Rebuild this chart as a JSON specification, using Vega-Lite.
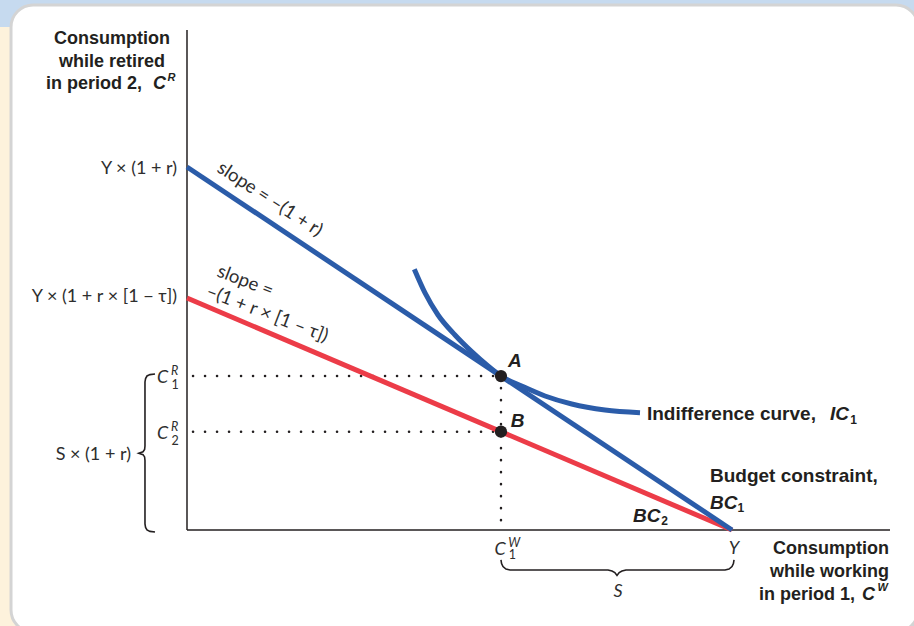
{
  "$schema": "https://vega.github.io/schema/vega-lite/v6.json",
  "width": 914,
  "height": 626,
  "padding": 0,
  "autosize": {"type": "none"},
  "background": "#c6daef",
  "config": {"view": {"stroke": null}},
  "datasets": {
    "yellow": [{"x": -34.32, "x2": -30.64, "y": 92.29, "y2": -17.62}],
    "panel": [{"x": -32.29, "x2": 134.13, "y": 96.33, "y2": -18.72}],
    "axes": [{"x": 0, "x2": 0, "y": 0, "y2": 91.74}, {"x": 0, "x2": 128.99, "y": 0, "y2": 0}],
    "dots": [{"x": 1.1, "x2": 57.61, "y": 28.24, "y2": 28.24}, {"x": 1.1, "x2": 57.61, "y": 18.05, "y2": 18.05}, {"x": 57.61, "x2": 57.61, "y": 28.24, "y2": 0}],
    "bc1": [{"x": 0, "y": 66.61}, {"x": 100, "y": 0}],
    "bc2": [{"x": 0, "y": 42.57}, {"x": 100, "y": 0}],
    "ic": [
      {"x": 41.71, "y": 47.83}, {"x": 43.67, "y": 43.49}, {"x": 46.06, "y": 39.45}, {"x": 49.17, "y": 35.78},
      {"x": 52.24, "y": 32.72}, {"x": 55.23, "y": 30.09}, {"x": 57.61, "y": 28.24}, {"x": 61.41, "y": 26.42},
      {"x": 65.69, "y": 24.59}, {"x": 70.59, "y": 23.12}, {"x": 76.7, "y": 22.02}, {"x": 83.12, "y": 21.52}
    ],
    "pts": [{"x": 57.61, "y": 28.24}, {"x": 57.61, "y": 18.05}],
    "braceL": [
      {"i": 1, "x": -5.87, "y": 28.62}, {"i": 2, "x": -6.79, "y": 28.51}, {"i": 3, "x": -7.34, "y": 28.26},
      {"i": 4, "x": -7.6, "y": 27.8}, {"i": 5, "x": -7.71, "y": 27.16}, {"i": 6, "x": -7.71, "y": 15.41},
      {"i": 7, "x": -7.78, "y": 14.77}, {"i": 8, "x": -8.07, "y": 14.35}, {"i": 9, "x": -8.84, "y": 14.09},
      {"i": 10, "x": -8.07, "y": 13.83}, {"i": 11, "x": -7.78, "y": 13.41}, {"i": 12, "x": -7.71, "y": 12.75},
      {"i": 13, "x": -7.71, "y": 1.1}, {"i": 14, "x": -7.6, "y": 0.46}, {"i": 15, "x": -7.34, "y": 0},
      {"i": 16, "x": -6.79, "y": -0.26}, {"i": 17, "x": -5.87, "y": -0.37}
    ],
    "braceB": [
      {"i": 1, "x": 57.61, "y": -5.5}, {"i": 2, "x": 57.72, "y": -6.15}, {"i": 3, "x": 57.98, "y": -6.7},
      {"i": 4, "x": 58.53, "y": -7.16}, {"i": 5, "x": 59.27, "y": -7.34}, {"i": 6, "x": 77.25, "y": -7.34},
      {"i": 7, "x": 77.98, "y": -7.52}, {"i": 8, "x": 78.5, "y": -7.82}, {"i": 9, "x": 78.9, "y": -8.35},
      {"i": 10, "x": 79.3, "y": -7.82}, {"i": 11, "x": 79.82, "y": -7.52}, {"i": 12, "x": 80.55, "y": -7.34},
      {"i": 13, "x": 98.72, "y": -7.34}, {"i": 14, "x": 99.45, "y": -7.16}, {"i": 15, "x": 100.0, "y": -6.7},
      {"i": 16, "x": 100.26, "y": -6.15}, {"i": 17, "x": 100.37, "y": -5.5}
    ],
    "t_boldCenter": [{"t": "Consumption", "x": -13.76, "y": 89.17}, {"t": "while retired", "x": -13.76, "y": 84.95}],
    "t_boldRight": [
      {"t": "in period 2,", "x": -8.26, "y": 80.92},
      {"t": "Consumption", "x": 128.81, "y": -4.4},
      {"t": "while working", "x": 128.81, "y": -8.62},
      {"t": "in period 1,", "x": 122.57, "y": -12.84}
    ],
    "t_boldItalicTitle": [{"t": "C", "x": -6.24, "y": 80.92}, {"t": "C", "x": 123.85, "y": -12.84}],
    "t_boldItalicSup": [{"t": "R", "x": -3.58, "y": 82.39}, {"t": "W", "x": 126.7, "y": -11.19}],
    "t_boldAnn": [{"t": "Indifference curve,", "x": 84.4, "y": 20.18}, {"t": "Budget constraint,", "x": 95.96, "y": 8.81}],
    "t_boldItalicAnn": [{"t": "IC", "x": 117.98, "y": 20.18}, {"t": "BC", "x": 95.96, "y": 3.85}, {"t": "BC", "x": 81.83, "y": 1.47}],
    "t_boldSub": [{"t": "1", "x": 121.7, "y": 19.45}, {"t": "1", "x": 101.0, "y": 3.3}, {"t": "2", "x": 87.0, "y": 0.92}],
    "t_points": [{"t": "A", "x": 60.18, "y": 29.91}, {"t": "B", "x": 60.64, "y": 18.9}],
    "t_lightRight": [
      {"t": "Y × (1 + r)", "x": -1.83, "y": 65.32},
      {"t": "Y × (1 + r × [1 − τ])", "x": -1.83, "y": 41.83},
      {"t": "S × (1 + r)", "x": -10.28, "y": 12.84}
    ],
    "t_lightItalicC": [{"t": "C", "x": -5.5, "y": 26.97}, {"t": "C", "x": -5.5, "y": 16.7}, {"t": "C", "x": 56.4, "y": -4.59}],
    "t_lightSup": [{"t": "R", "x": -2.95, "y": 28.44}, {"t": "R", "x": -2.95, "y": 18.17}, {"t": "W", "x": 58.95, "y": -3.12}],
    "t_lightSub": [{"t": "1", "x": -2.85, "y": 25.9}, {"t": "2", "x": -2.85, "y": 15.6}, {"t": "1", "x": 59.05, "y": -5.3}],
    "t_lightItalicCenter": [{"t": "Y", "x": 100.37, "y": -4.4}, {"t": "S", "x": 79.08, "y": -12.29}],
    "t_slope1": [{"t": "slope = –(1 + r)", "x": 5.32, "y": 65.87}],
    "t_slope2": [{"t": "slope =", "x": 5.32, "y": 46.61}, {"t": "–(1 + r × [1 – τ])", "x": 3.3, "y": 42.94}]
  },
  "encoding": {
    "x": {"field": "x", "type": "quantitative", "scale": {"domain": [-34.3119, 133.3945], "nice": false, "zero": false}, "axis": null},
    "y": {"field": "y", "type": "quantitative", "scale": {"domain": [-17.6147, 97.2477], "nice": false, "zero": false}, "axis": null}
  },
  "layer": [
    {"data": {"name": "yellow"}, "mark": {"type": "rect", "color": "#fdf2dc"}, "encoding": {"x2": {"field": "x2"}, "y2": {"field": "y2"}}},
    {"data": {"name": "panel"}, "mark": {"type": "rect", "fill": "#ffffff", "stroke": "#d4d4d4", "strokeWidth": 3, "cornerRadius": 22}, "encoding": {"x2": {"field": "x2"}, "y2": {"field": "y2"}}},
    {"data": {"name": "axes"}, "mark": {"type": "rule", "color": "#231f20", "strokeWidth": 1.5}, "encoding": {"x2": {"field": "x2"}, "y2": {"field": "y2"}}},
    {"data": {"name": "dots"}, "mark": {"type": "rule", "color": "#231f20", "strokeWidth": 2.5, "strokeCap": "round", "strokeDash": [0.1, 11.9]}, "encoding": {"x2": {"field": "x2"}, "y2": {"field": "y2"}}},
    {"data": {"name": "bc2"}, "mark": {"type": "line", "color": "#ec3c48", "strokeWidth": 5, "strokeCap": "butt"}, "encoding": {}},
    {"data": {"name": "bc1"}, "mark": {"type": "line", "color": "#2b5ca9", "strokeWidth": 5, "strokeCap": "butt"}, "encoding": {}},
    {"data": {"name": "ic"}, "mark": {"type": "line", "color": "#2b5ca9", "strokeWidth": 5, "strokeCap": "butt", "interpolate": "monotone"}, "encoding": {}},
    {"data": {"name": "pts"}, "mark": {"type": "point", "filled": true, "opacity": 1, "color": "#231f20", "size": 150}, "encoding": {}},
    {"data": {"name": "braceL"}, "mark": {"type": "line", "color": "#231f20", "strokeWidth": 1.6}, "encoding": {"order": {"field": "i"}}},
    {"data": {"name": "braceB"}, "mark": {"type": "line", "color": "#231f20", "strokeWidth": 1.6}, "encoding": {"order": {"field": "i"}}},
    {"data": {"name": "t_boldCenter"}, "mark": {"type": "text", "font": "Liberation Sans", "fontWeight": "bold", "fontSize": 18, "align": "center", "baseline": "alphabetic", "color": "#231f20"}, "encoding": {"text": {"field": "t"}}},
    {"data": {"name": "t_boldRight"}, "mark": {"type": "text", "font": "Liberation Sans", "fontWeight": "bold", "fontSize": 18, "align": "right", "baseline": "alphabetic", "color": "#231f20"}, "encoding": {"text": {"field": "t"}}},
    {"data": {"name": "t_boldItalicTitle"}, "mark": {"type": "text", "font": "Liberation Sans", "fontWeight": "bold", "fontStyle": "italic", "fontSize": 18, "align": "left", "baseline": "alphabetic", "color": "#231f20"}, "encoding": {"text": {"field": "t"}}},
    {"data": {"name": "t_boldItalicSup"}, "mark": {"type": "text", "font": "Liberation Sans", "fontWeight": "bold", "fontStyle": "italic", "fontSize": 11, "align": "left", "baseline": "alphabetic", "color": "#231f20"}, "encoding": {"text": {"field": "t"}}},
    {"data": {"name": "t_boldAnn"}, "mark": {"type": "text", "font": "Liberation Sans", "fontWeight": "bold", "fontSize": 19, "align": "left", "baseline": "alphabetic", "color": "#231f20"}, "encoding": {"text": {"field": "t"}}},
    {"data": {"name": "t_boldItalicAnn"}, "mark": {"type": "text", "font": "Liberation Sans", "fontWeight": "bold", "fontStyle": "italic", "fontSize": 19, "align": "left", "baseline": "alphabetic", "color": "#231f20"}, "encoding": {"text": {"field": "t"}}},
    {"data": {"name": "t_boldSub"}, "mark": {"type": "text", "font": "Liberation Sans", "fontWeight": "bold", "fontSize": 12, "align": "left", "baseline": "alphabetic", "color": "#231f20"}, "encoding": {"text": {"field": "t"}}},
    {"data": {"name": "t_points"}, "mark": {"type": "text", "font": "Liberation Sans", "fontWeight": "bold", "fontStyle": "italic", "fontSize": 19, "align": "center", "baseline": "alphabetic", "color": "#231f20"}, "encoding": {"text": {"field": "t"}}},
    {"data": {"name": "t_lightRight"}, "mark": {"type": "text", "font": "Lato", "fontWeight": 400, "fontSize": 18, "align": "right", "baseline": "alphabetic", "color": "#2e2e2e"}, "encoding": {"text": {"field": "t"}}},
    {"data": {"name": "t_lightItalicC"}, "mark": {"type": "text", "font": "Lato", "fontWeight": 400, "fontStyle": "italic", "fontSize": 18, "align": "left", "baseline": "alphabetic", "color": "#2e2e2e"}, "encoding": {"text": {"field": "t"}}},
    {"data": {"name": "t_lightSup"}, "mark": {"type": "text", "font": "Lato", "fontWeight": 400, "fontStyle": "italic", "fontSize": 12.5, "align": "left", "baseline": "alphabetic", "color": "#2e2e2e"}, "encoding": {"text": {"field": "t"}}},
    {"data": {"name": "t_lightSub"}, "mark": {"type": "text", "font": "Lato", "fontWeight": 400, "fontSize": 12.5, "align": "left", "baseline": "alphabetic", "color": "#2e2e2e"}, "encoding": {"text": {"field": "t"}}},
    {"data": {"name": "t_lightItalicCenter"}, "mark": {"type": "text", "font": "Lato", "fontWeight": 400, "fontStyle": "italic", "fontSize": 18, "align": "center", "baseline": "alphabetic", "color": "#2e2e2e"}, "encoding": {"text": {"field": "t"}}},
    {"data": {"name": "t_slope1"}, "mark": {"type": "text", "font": "Lato", "fontWeight": 400, "fontSize": 18.5, "align": "left", "baseline": "alphabetic", "angle": 33, "color": "#2e2e2e"}, "encoding": {"text": {"field": "t"}}},
    {"data": {"name": "t_slope2"}, "mark": {"type": "text", "font": "Lato", "fontWeight": 400, "fontSize": 18.5, "align": "left", "baseline": "alphabetic", "angle": 21, "color": "#2e2e2e"}, "encoding": {"text": {"field": "t"}}}
  ]
}
